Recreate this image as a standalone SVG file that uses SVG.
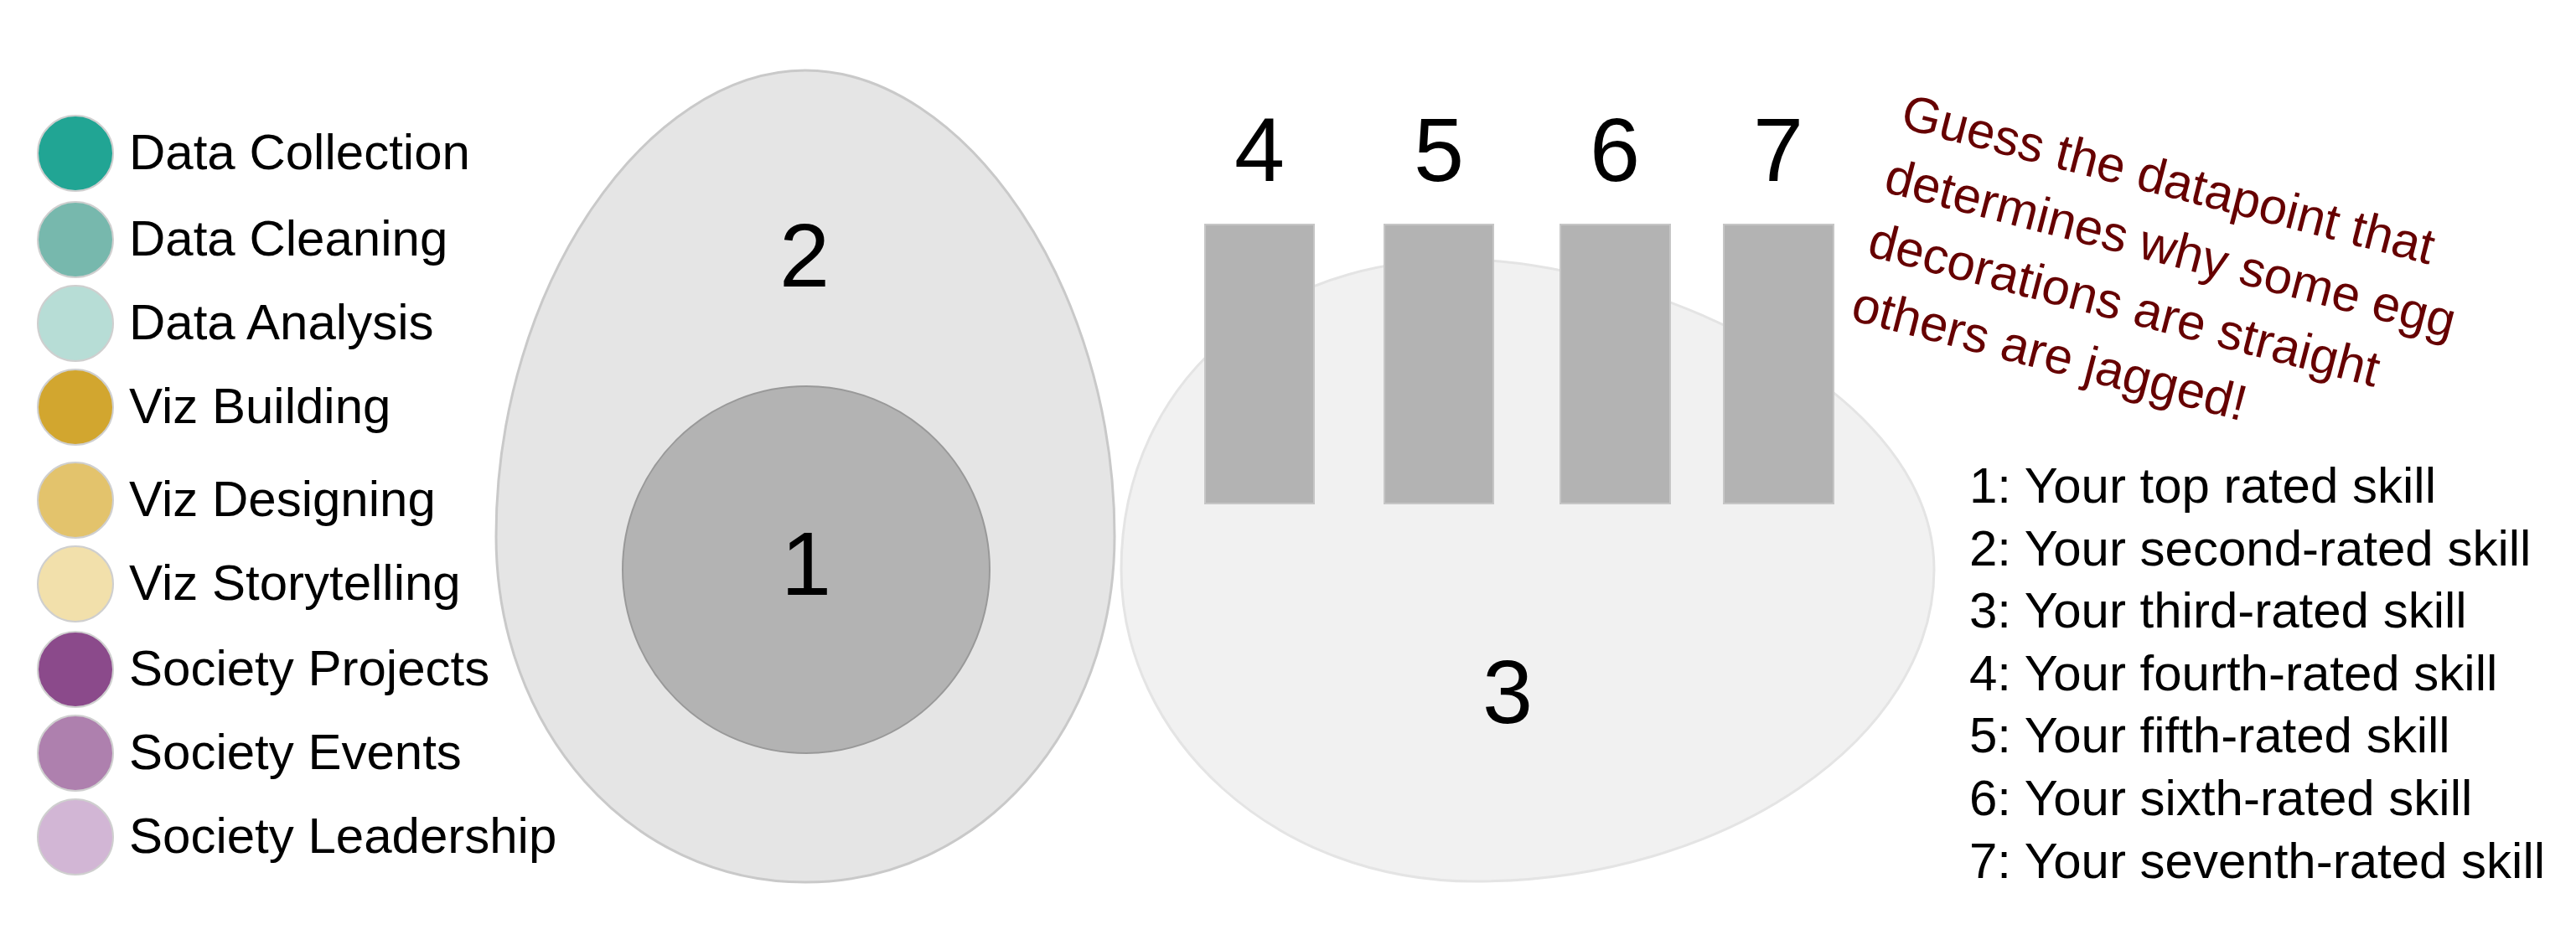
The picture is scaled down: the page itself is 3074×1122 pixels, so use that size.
<svg xmlns="http://www.w3.org/2000/svg" width="3074" height="1122" viewBox="0 0 3074 1122">
<style>
text{font-family:"Liberation Sans",Arial,Helvetica,sans-serif;fill:#000}
.leg{font-size:60px}
.dot{stroke:#cfcfcf;stroke-width:2}
.num{font-size:108px;text-anchor:middle}
.bar{fill:#b3b3b3;stroke:#c6c6c6;stroke-width:2}
.note{font-size:60px;fill:#660000}
.key{font-size:60px}
</style>
<rect width="3074" height="1122" fill="#ffffff"/>
<g id="legend">
<g id="leg-data-collection"><circle class="dot" cx="90" cy="183" r="45" fill="#21a594"/><text class="leg" x="154" y="202">Data Collection</text></g>
<g id="leg-data-cleaning"><circle class="dot" cx="90" cy="286" r="45" fill="#77b8ad"/><text class="leg" x="154" y="305">Data Cleaning</text></g>
<g id="leg-data-analysis"><circle class="dot" cx="90" cy="386" r="45" fill="#b7ddd6"/><text class="leg" x="154" y="405">Data Analysis</text></g>
<g id="leg-viz-building"><circle class="dot" cx="90" cy="486" r="45" fill="#d2a62f"/><text class="leg" x="154" y="505">Viz Building</text></g>
<g id="leg-viz-designing"><circle class="dot" cx="90" cy="597" r="45" fill="#e3c36c"/><text class="leg" x="154" y="616">Viz Designing</text></g>
<g id="leg-viz-storytelling"><circle class="dot" cx="90" cy="697" r="45" fill="#f2e0ab"/><text class="leg" x="154" y="716">Viz Storytelling</text></g>
<g id="leg-society-projects"><circle class="dot" cx="90" cy="799" r="45" fill="#8b4a8b"/><text class="leg" x="154" y="818">Society Projects</text></g>
<g id="leg-society-events"><circle class="dot" cx="90" cy="899" r="45" fill="#ae80ae"/><text class="leg" x="154" y="918">Society Events</text></g>
<g id="leg-society-leadership"><circle class="dot" cx="90" cy="999" r="45" fill="#d2b6d5"/><text class="leg" x="154" y="1018">Society Leadership</text></g>
</g>
<g id="egg-2">
<path d="M961,84 C1149,84 1330,340 1330,640 C1330,870 1171,1053 961,1053 C751,1053 592,870 592,640 C592,340 773,84 961,84 Z" fill="#e5e5e5" stroke="#c9c9c9" stroke-width="3"/>
<text class="num" x="960" y="342">2</text>
</g>
<g id="yolk-1">
<circle cx="962" cy="680" r="219" fill="#b3b3b3" stroke="#999999" stroke-width="2"/>
<text class="num" x="962" y="710">1</text>
</g>
<g id="blob-3">
<path d="M1790,312 C1990,330 2308,470 2308,680 C2308,880 2060,1052 1760,1052 C1520,1052 1338,880 1338,680 C1338,450 1530,289 1790,312 Z" fill="#f1f1f1" stroke="#e4e4e4" stroke-width="3"/>
<text class="num" x="1799" y="863">3</text>
</g>
<g id="bar-4"><rect class="bar" x="1438" y="268" width="130" height="333"/><text class="num" x="1503" y="216">4</text></g>
<g id="bar-5"><rect class="bar" x="1652" y="268" width="130" height="333"/><text class="num" x="1717" y="216">5</text></g>
<g id="bar-6"><rect class="bar" x="1862" y="268" width="131" height="333"/><text class="num" x="1927" y="216">6</text></g>
<g id="bar-7"><rect class="bar" x="2057" y="268" width="131" height="333"/><text class="num" x="2122" y="216">7</text></g>
<g id="note" transform="translate(2266,152) rotate(14.5)">
<text class="note" x="0" y="0">Guess the datapoint that</text>
<text class="note" x="0" y="79">determines why some egg</text>
<text class="note" x="0" y="158">decorations are straight</text>
<text class="note" x="0" y="237">others are jagged!</text>
</g>
<g id="key">
<text class="key" x="2350" y="600">1: Your top rated skill</text>
<text class="key" x="2350" y="675">2: Your second-rated skill</text>
<text class="key" x="2350" y="749">3: Your third-rated skill</text>
<text class="key" x="2350" y="824">4: Your fourth-rated skill</text>
<text class="key" x="2350" y="898">5: Your fifth-rated skill</text>
<text class="key" x="2350" y="973">6: Your sixth-rated skill</text>
<text class="key" x="2350" y="1048">7: Your seventh-rated skill</text>
</g>
<g id="connectors"/>
</svg>
